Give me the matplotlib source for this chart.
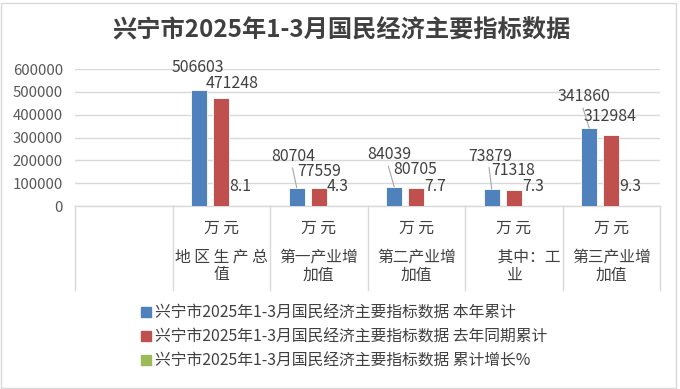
import matplotlib
matplotlib.use("Agg")
import matplotlib.pyplot as plt
from matplotlib.patches import Rectangle
import numpy as np

plt.rcParams['font.family'] = ['Noto Sans CJK SC', 'DejaVu Sans']

# ---------------- data ----------------
title = "兴宁市2025年1-3月国民经济主要指标数据"
categories = ["", "地区生产总值", "第一产业增加值", "第二产业增加值", "其中：工业", "第三产业增加值"]
units = ["", "万 元", "万 元", "万 元", "万 元", "万 元"]
label_line2 = ["", "地 区 生 产 总", "第一产业增", "第二产业增", "\u3000\u3000其中：工", "第三产业增"]
label_line3 = ["", "值", "加值", "加值", "业", "加值"]
series_names = ["兴宁市2025年1-3月国民经济主要指标数据 本年累计",
                "兴宁市2025年1-3月国民经济主要指标数据 去年同期累计",
                "兴宁市2025年1-3月国民经济主要指标数据 累计增长%"]
this_year = [np.nan, 506603, 80704, 84039, 73879, 341860]
last_year = [np.nan, 471248, 77559, 80705, 71318, 312984]
growth = [np.nan, 8.1, 4.3, 7.7, 7.3, 9.3]
yticks = [0, 100000, 200000, 300000, 400000, 500000, 600000]

# ---------------- style ----------------
colors = ["#4F81BD", "#C0504D", "#9BBB59"]
text_color = "#404040"
grid_color = "#d9d9d9"
# label offsets in pixels (dx, dy above bar top)
blue_off = [None, (-1, 23), (-3, 31), (-5, 32), (-1, 33), (-5, 31)]
red_off = [None, (11, 15), (0, 17), (-1, 18), (-1, 19), (-1, 18)]
green_off = (-3, 19)

W, H = 680, 389
fig = plt.figure(figsize=(W / 100, H / 100), dpi=100)
renderer = fig.canvas.get_renderer()


def fit(txt, target_px, **kw):
    t = fig.text(0, 0, txt, fontsize=10, **kw)
    w = t.get_window_extent(renderer).width
    t.remove()
    return 10 * target_px / w


title_fs = fit(title, 458, fontweight="bold")
legend_fs = fit(series_names[0], 362)
cat_fs = fit("第一产业增", 79)
val_fs = fit("506603", 53)
tick_fs = fit("600000", 50)

ax = fig.add_axes([75 / W, 1 - 206 / H, 585 / W, 137 / H])

x = np.arange(len(categories))
bw = 0.168
step = 0.226
series = [this_year, last_year, growth]
for k, (vals, c) in enumerate(zip(series, colors)):
    ax.bar(x + (k - 1) * step, vals, width=bw, color=c,
           edgecolor="white", linewidth=0.6, label=series_names[k], zorder=3)

ax.set_xlim(-0.5, len(categories) - 0.5)
ax.set_ylim(0, 600000)
ax.set_yticks(yticks)
ax.set_yticklabels([str(v) for v in yticks], fontsize=tick_fs, color="#595959")
ax.tick_params(axis="y", length=0, pad=12 * 0.72)
ax.set_xticks([])
ax.grid(axis="y", color=grid_color, linewidth=1, zorder=0)
for s in ["top", "right", "left"]:
    ax.spines[s].set_visible(False)
ax.spines["bottom"].set_color(grid_color)
ax.spines["bottom"].set_linewidth(1)

# category dividers
trans = ax.get_xaxis_transform()
depth = -(290 - 206) / 137
for xb in np.arange(-0.5, len(categories), 1.0):
    ax.plot([xb, xb], [0, depth], transform=trans, color=grid_color,
            lw=1, clip_on=False, zorder=1)

# category labels
y_u = -(228 - 206) / 137
y_2 = -(257 - 206) / 137
y_3 = -(275 - 206) / 137
for i in range(len(categories)):
    for txt, yy in ((units[i], y_u), (label_line2[i], y_2), (label_line3[i], y_3)):
        if txt:
            ax.text(x[i], yy, txt, transform=trans, ha="center", va="center",
                    fontsize=cat_fs, color=text_color)

# value labels
ann_kw = dict(textcoords="offset pixels", ha="center", va="center",
              fontsize=val_fs, color=text_color, zorder=5)
for i in range(1, len(categories)):
    bx = x[i] - step
    dx, dy = blue_off[i]
    if dy > 25:
        ax.annotate(str(this_year[i]), xy=(bx, this_year[i]), xytext=(dx, dy),
                    arrowprops=dict(arrowstyle="-", color="#a6a6a6", lw=0.8,
                                    shrinkA=0, shrinkB=0, relpos=(0.45, 0.1)),
                    **ann_kw)
    else:
        ax.annotate(str(this_year[i]), xy=(bx, this_year[i]), xytext=(dx, dy), **ann_kw)
    dx, dy = red_off[i]
    ax.annotate(str(last_year[i]), xy=(x[i], last_year[i]), xytext=(dx, dy), **ann_kw)
    ax.annotate(f"{growth[i]}", xy=(x[i] + step, growth[i]), xytext=green_off, **ann_kw)

# title
fig.text(341 / W, 1 - 30 / H, title, ha="center", va="center", fontsize=title_fs,
         fontweight="bold", color=text_color)

# legend (positioned to match reference rows at y=313/337/361, text left at x=155)
handles = [Rectangle((0, 0), 1, 1, color=c) for c in colors]
fs_px = legend_fs * 100 / 72


def make_legend(anchor, ls):
    return fig.legend(handles, series_names, loc="upper left",
                      bbox_to_anchor=anchor, frameon=False, fontsize=legend_fs,
                      handlelength=10 / fs_px, handleheight=10 / fs_px,
                      handletextpad=4 / fs_px, labelspacing=ls,
                      labelcolor=text_color, borderpad=0, borderaxespad=0)


anchor = (141 / W, 1 - 300 / H)
ls = 0.4
leg = make_legend(anchor, ls)
for _ in range(2):
    fig.canvas.draw()
    bbs = [t.get_window_extent(renderer) for t in leg.get_texts()]
    pitch = (bbs[0].y0 - bbs[2].y0) / 2
    ls += (24 - pitch) / fs_px
    leg.remove()
    leg = make_legend(anchor, ls)
    fig.canvas.draw()
    bb0 = leg.get_texts()[0].get_window_extent(renderer)
    cy = (bb0.y0 + bb0.y1) / 2
    dx_px = 155 - bb0.x0
    dy_px = (H - 313) - cy
    anchor = (anchor[0] + dx_px / W, anchor[1] + dy_px / H)
    leg.remove()
    leg = make_legend(anchor, ls)

# outer border
fig.patches.append(Rectangle((1 / W, 1.5 / H), 675 / W, 385 / H,
                             transform=fig.transFigure, fill=False,
                             edgecolor="#d9d9d9", lw=1))

fig.savefig("out.png", dpi=100)
